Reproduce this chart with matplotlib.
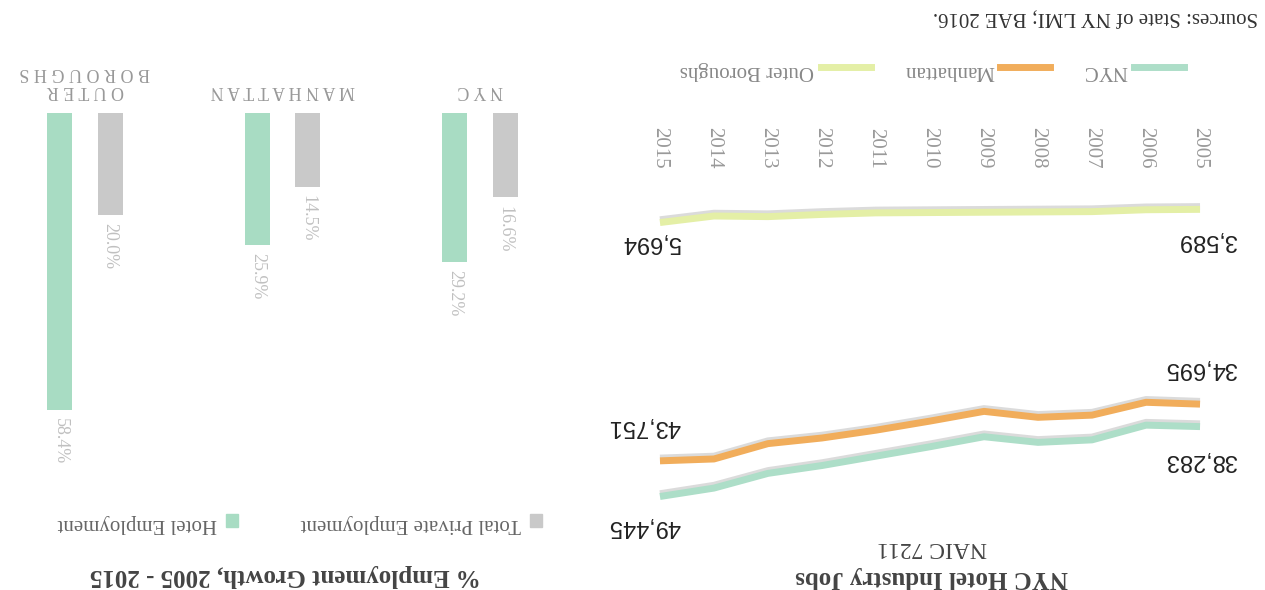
import matplotlib
matplotlib.use('Agg')
import matplotlib.pyplot as plt
import matplotlib.patheffects as pe
from matplotlib.lines import Line2D
from matplotlib.patches import Patch
import numpy as np

# hotel jobs, NAIC 7211
years = [2005, 2006, 2007, 2008, 2009, 2010, 2011, 2012, 2013, 2014, 2015]
nyc_jobs = [38283, 38050, 40400, 40800, 39900, 41500, 43000, 44500, 45750, 48100, 49445]
manhattan_jobs = [34695, 34400, 36450, 36800, 35850, 37400, 38850, 40100, 41000, 43450, 43751]
outer_jobs = [3589, 3650, 3950, 4000, 4050, 4100, 4150, 4400, 4750, 4650, 5694]

# % growth 2005 - 2015
areas = ['N Y C', 'M A N H A T T A N', 'O U T E R\nB O R O U G H S']
total_growth = [16.6, 14.5, 20.0]
hotel_growth = [29.2, 25.9, 58.4]

green = '#addec8'
orange = '#f1ad5b'
lime = '#e4efa6'
grey_bar = '#c9c9c9'
green_bar = '#a8dcc3'

plt.rcParams['font.family'] = ['Liberation Serif', 'DejaVu Serif']

W, H = 1265, 590
fig = plt.figure(figsize=(W / 100, H / 100), dpi=100)
fig.patch.set_facecolor('white')

# the page is printed upside down, so both panels run with flipped axes
# and every text is turned through 180 degrees

# ---- line chart ----
ax1 = fig.add_axes([620 / W, 1 - 510 / H, 620 / W, 330 / H])
ax1.set_xlim(2015.74, 2004.26)
ax1.set_ylim(51600, -1100)

shadow = [pe.SimpleLineShadow(offset=(0, 2), shadow_color='#999999', alpha=0.35), pe.Normal()]
series = [(nyc_jobs, green, 'NYC'), (manhattan_jobs, orange, 'Manhattan'), (outer_jobs, lime, 'Outer Boroughs')]
for vals, col, name in series:
    ax1.plot(years, vals, color=col, lw=5, solid_capstyle='butt', path_effects=shadow)

# end labels
end_offsets = {'NYC': (-24, -21), 'Manhattan': (26, 25), 'Outer Boroughs': (-22, -14)}
for vals, col, name in series:
    dy0, dy1 = end_offsets[name]
    ax1.annotate(f'{vals[0]:,}', (years[0], vals[0]), xytext=(27, dy0), textcoords='offset points',
                 ha='right', va='center', rotation=180, fontsize=17, color='#222222',
                 family='Liberation Sans')
    ax1.annotate(f'{vals[-1]:,}', (years[-1], vals[-1]), xytext=(15, dy1), textcoords='offset points',
                 ha='right', va='center', rotation=180, fontsize=17, color='#222222',
                 family='Liberation Sans')

ax1.xaxis.tick_top()
ax1.set_xticks(years)
ax1.set_xticklabels([str(y) for y in years], rotation=270, fontsize=15, color='#999999')
ax1.tick_params(axis='x', length=0, pad=8)
ax1.set_yticks([])
for s in ax1.spines.values():
    s.set_visible(False)
ax1.patch.set_alpha(0)

line_handles = [Line2D([], [], color=lime, lw=5), Line2D([], [], color=orange, lw=5),
                Line2D([], [], color=green, lw=5)]
leg1 = fig.legend(line_handles, ['Outer Boroughs', 'Manhattan', 'NYC'], loc='center',
                  bbox_to_anchor=(932 / W, 1 - 70 / H), ncol=3, frameon=False, markerfirst=False,
                  handlelength=2.4, handletextpad=0.3, columnspacing=1.6, fontsize=15)
for t in leg1.get_texts():
    t.set_rotation(180)
    t.set_color('#888888')

fig.text(932 / W, 1 - 578 / H, 'NYC Hotel Industry Jobs', rotation=180, ha='center', va='center',
         fontsize=18, fontweight='bold', color='#444444')
fig.text(932 / W, 1 - 548 / H, 'NAIC 7211', rotation=180, ha='center', va='center',
         fontsize=17, color='#444444')
fig.text(1258 / W, 1 - 16 / H, 'Sources: State of NY LMI; BAE 2016.', rotation=180, ha='right',
         va='center', fontsize=15, color='#333333')

# ---- bar chart ----
ax2 = fig.add_axes([20 / W, 1 - 430 / H, 540 / W, 317 / H])
ax2.set_xlim(2.329, -0.405)
ax2.set_ylim(62.3, 0)
x = np.arange(len(areas))
bw = 0.127
ax2.bar(x - 0.127, total_growth, width=bw, color=grey_bar)
ax2.bar(x + 0.127, hotel_growth, width=bw, color=green_bar)

for xi, tv, hv in zip(x, total_growth, hotel_growth):
    ax2.text(xi - 0.127, tv + 1.6, f'{tv:.1f}%', rotation=270, ha='center', va='top',
             fontsize=13, color='#c0c0c0', clip_on=False)
    ax2.text(xi + 0.127, hv + 1.6, f'{hv:.1f}%', rotation=270, ha='center', va='top',
             fontsize=13, color='#c0c0c0', clip_on=False)

for xi, name in zip(x, areas):
    ax2.text(xi, -2.7, name, rotation=180, ha='center', va='bottom', multialignment='center',
             fontsize=13, color='#999999', clip_on=False, linespacing=1.1)

ax2.set_xticks([])
ax2.set_yticks([])
for s in ax2.spines.values():
    s.set_visible(False)
ax2.patch.set_alpha(0)

bar_handles = [Patch(color=green_bar), Patch(color=grey_bar)]
leg2 = fig.legend(bar_handles, ['Hotel Employment', 'Total Private Employment'], loc='center',
                  bbox_to_anchor=(300 / W, 1 - 523 / H), ncol=2, frameon=False, markerfirst=False,
                  handlelength=0.6, handleheight=0.6, handletextpad=0.4, columnspacing=3.0,
                  fontsize=15)
for t in leg2.get_texts():
    t.set_rotation(180)
    t.set_color('#666666')

fig.text(285 / W, 1 - 575 / H, '% Employment Growth, 2005 - 2015', rotation=180, ha='center',
         va='center', fontsize=18, fontweight='bold', color='#444444')

fig.savefig('out.png', dpi=100)
